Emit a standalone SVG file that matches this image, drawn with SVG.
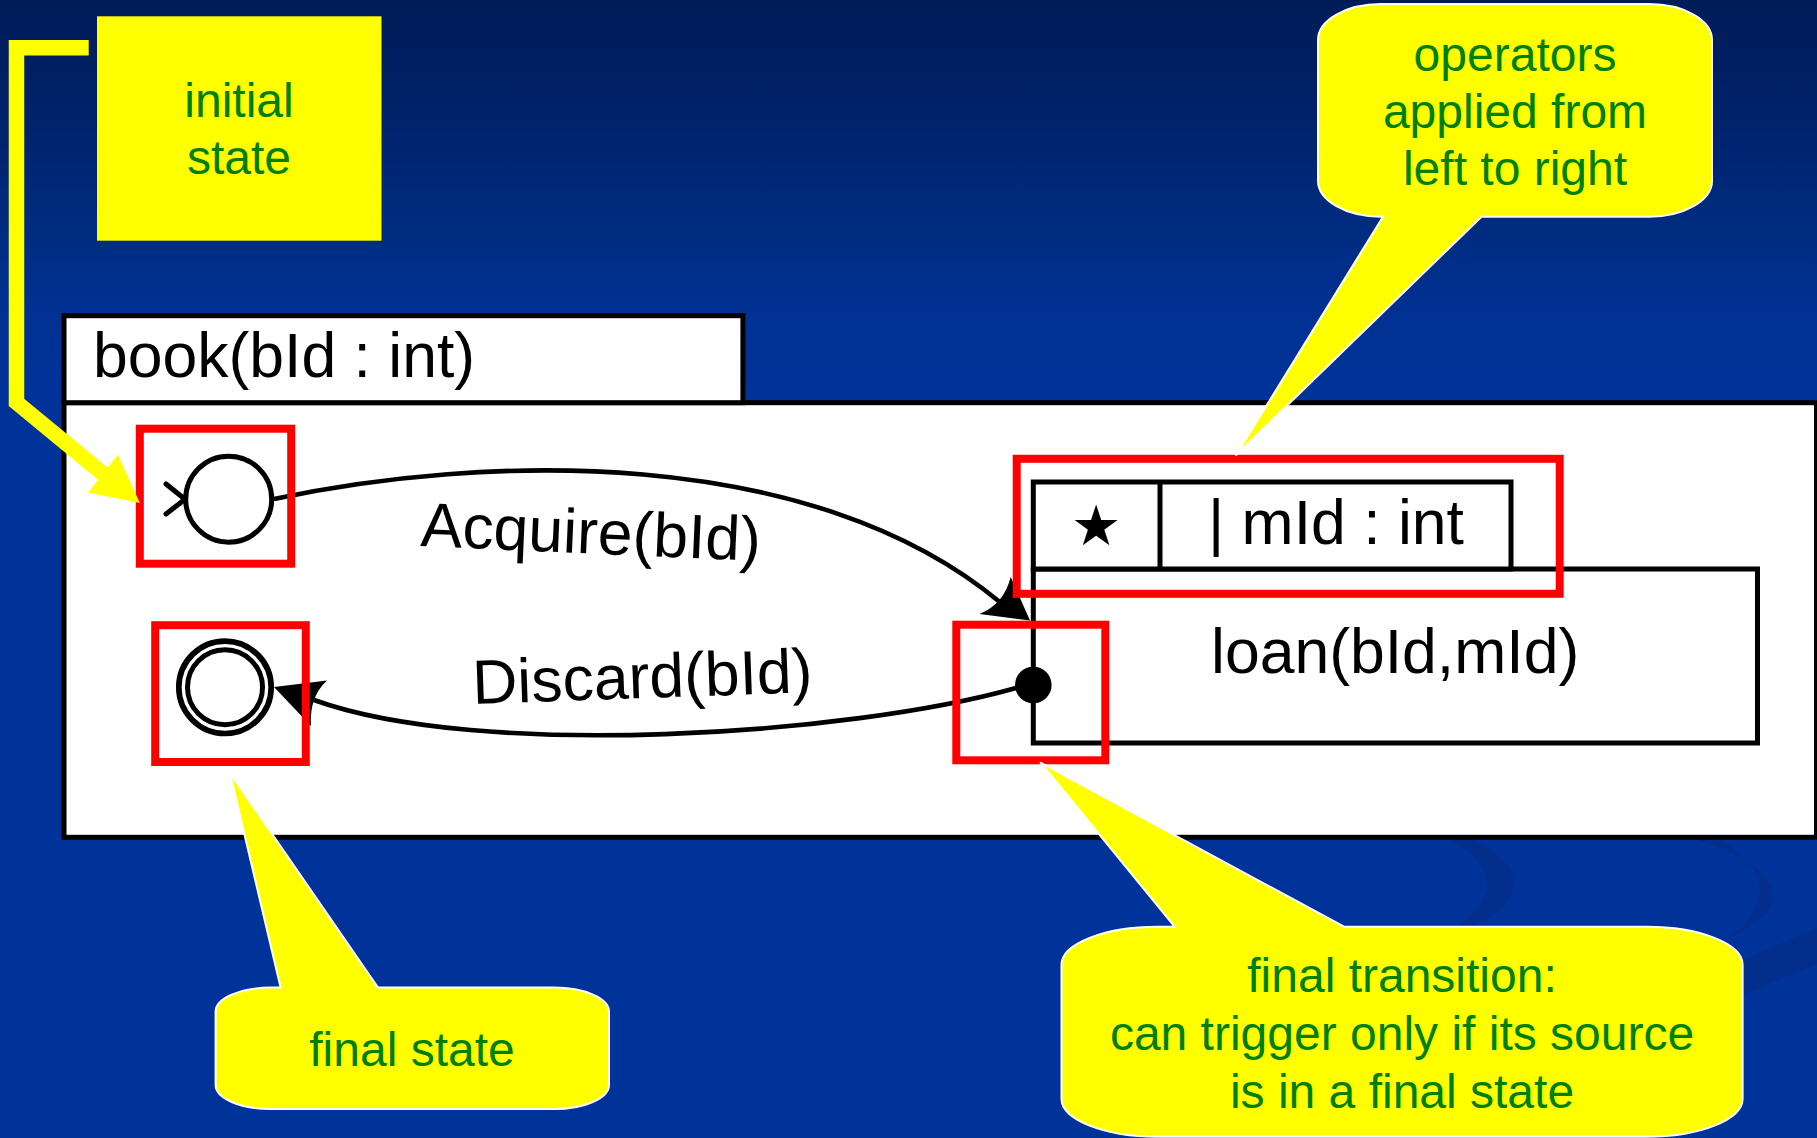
<svg xmlns="http://www.w3.org/2000/svg" width="1817" height="1138" viewBox="0 0 1817 1138">
  <defs>
    <linearGradient id="sky" x1="0" y1="0" x2="0" y2="1138" gradientUnits="userSpaceOnUse">
      <stop offset="0" stop-color="#001c58"/>
      <stop offset="0.1" stop-color="#00226a"/>
      <stop offset="0.2" stop-color="#002c80"/>
      <stop offset="0.27" stop-color="#003192"/>
      <stop offset="0.34" stop-color="#003399"/>
      <stop offset="1" stop-color="#003399"/>
    </linearGradient>
    <style>
      .lbl { font-family: "Liberation Sans", Arial, sans-serif; font-size: 62.5px; fill: #000; }
      .note { font-family: "Liberation Sans", Arial, sans-serif; font-size: 48px; fill: #008000; text-anchor: middle; }
      .box { fill: #fff; stroke: #000; stroke-width: 5; stroke-linejoin: miter; }
      .line { fill: none; stroke: #000; stroke-width: 5; }
      .edge { fill: none; stroke: #000; stroke-width: 4.6; }
      .head { fill: #000; stroke: none; }
      .hl { fill: none; stroke: #ff0000; stroke-width: 8; }
      .callout { fill: #ffff00; stroke: #ffffff; stroke-width: 2; stroke-linejoin: round; }
      .swirl { fill: #06277a; opacity: 0.45; }
    </style>
  </defs>

  <!-- slide background -->
  <rect width="1817" height="1138" fill="url(#sky)"/>
  <g id="backdrop">
    <path class="swirl" d="M1468,838 C1528,862 1540,912 1432,940 C1500,908 1506,868 1446,838 Z"/>
    <path class="swirl" d="M1690,838 C1770,858 1808,905 1728,938 C1782,900 1760,860 1716,838 Z"/>
    <path class="swirl" d="M1690,982 L1817,928 L1817,964 L1690,1016 Z"/>
  </g>

  <!-- composite state book(bId : int) -->
  <g id="book">
    <rect class="box" x="64" y="402.7" width="1752.5" height="434.6"/>
    <rect class="box" x="64" y="315.7" width="678.9" height="87"/>
    <text class="lbl" x="93" y="377">book(bId : int)</text>
  </g>

  <!-- initial pseudo-state -->
  <g id="initial-state">
    <circle cx="228.7" cy="499.2" r="43" fill="#fff" stroke="#000" stroke-width="5"/>
    <path d="M166,484 L185,499.3 L166,514" fill="none" stroke="#000" stroke-width="5" stroke-linecap="round" stroke-linejoin="round"/>
  </g>

  <!-- final state -->
  <g id="final-state">
    <circle cx="225" cy="687.3" r="46.2" fill="#fff" stroke="#000" stroke-width="5.7"/>
    <circle cx="225" cy="687.3" r="37.5" fill="none" stroke="#000" stroke-width="5"/>
  </g>

  <!-- replicated state loan(bId,mId) with operator tabs -->
  <g id="loan">
    <rect class="box" x="1033.3" y="569" width="724.2" height="174"/>
    <rect class="box" x="1033.3" y="482" width="477.7" height="87"/>
    <line class="line" x1="1160" y1="482" x2="1160" y2="569"/>
    <text x="1096" y="545" font-family="DejaVu Sans, sans-serif" font-size="56" text-anchor="middle" fill="#000">★</text>
    <text class="lbl" x="1208" y="544">| mId : int</text>
    <text class="lbl" x="1211" y="673.3">loan(bId,mId)</text>
    <circle cx="1033.3" cy="685" r="18.3" fill="#000"/>
  </g>

  <!-- transitions -->
  <g id="connectors">
    <path class="edge" d="M274,499 C480,455 810,443 1001,603"/>
    <path class="head" d="M1030,620.5 L979.5,614 Q1004,604 1010.7,577 Z"/>
    <text class="lbl" x="420" y="546" transform="rotate(2.5 420 546)">Acquire(bId)</text>

    <path class="edge" d="M1016,688 C850,735 480,760 314,700"/>
    <path class="head" d="M274,687 L327,680.5 Q309,697 311,726 Z"/>
    <text class="lbl" x="473" y="704" transform="rotate(-2 473 704)">Discard(bId)</text>
  </g>

  <!-- red highlight frames -->
  <g id="highlights">
    <rect class="hl" x="139.8" y="428.7" width="151.4" height="135"/>
    <rect class="hl" x="155.2" y="625.2" width="150.6" height="136.8"/>
    <rect class="hl" x="1016.7" y="458.8" width="543" height="135"/>
    <rect class="hl" x="956.3" y="624.7" width="149" height="135.6"/>
  </g>

  <!-- note: initial state -->
  <g id="note-initial">
    <rect x="97" y="16.3" width="284.5" height="224.4" fill="#ffff00"/>
    <polyline points="88.7,47.8 16.5,47.8 16.5,402.4 103,473.7" fill="none" stroke="#ffff00" stroke-width="15.5" stroke-linejoin="miter"/>
    <polygon points="139.8,503 88.2,492.6 117.8,454.8" fill="#ffff00"/>
    <text class="note" x="239" y="116.7">initial</text>
    <text class="note" x="239" y="174">state</text>
  </g>

  <!-- note: operators -->
  <g id="note-operators">
    <path class="callout" d="M1381,4 H1649 A63,36 0 0 1 1712,40 V180.7 A63,36 0 0 1 1649,216.7 H1481.5 L1236,455 L1383,216.7 H1381 A63,36 0 0 1 1318,180.7 V40 A63,36 0 0 1 1381,4 Z"/>
    <text class="note" x="1515" y="70.5">operators</text>
    <text class="note" x="1515" y="128.3">applied from</text>
    <text class="note" x="1515" y="185">left to right</text>
  </g>

  <!-- note: final state -->
  <g id="note-final-state">
    <path class="callout" d="M270.6,987.6 H280.6 L230,773 L378,987.6 H554 A55,24 0 0 1 609,1011.6 V1085 A55,24 0 0 1 554,1109 H270.6 A55,24 0 0 1 215.6,1085 V1011.6 A55,24 0 0 1 270.6,987.6 Z"/>
    <text class="note" x="412" y="1066">final state</text>
  </g>

  <!-- note: final transition -->
  <g id="note-final-transition">
    <path class="callout" d="M1157.5,926.7 H1174.6 L1040.6,762.7 L1344,926.7 H1646.6 A96,38 0 0 1 1742.6,964.7 V1098.7 A96,38 0 0 1 1646.6,1136.7 H1157.5 A96,38 0 0 1 1061.5,1098.7 V964.7 A96,38 0 0 1 1157.5,926.7 Z"/>
    <text class="note" x="1402" y="991.7">final transition:</text>
    <text class="note" x="1402" y="1050">can trigger only if its source</text>
    <text class="note" x="1402" y="1108.3">is in a final state</text>
  </g>
</svg>
